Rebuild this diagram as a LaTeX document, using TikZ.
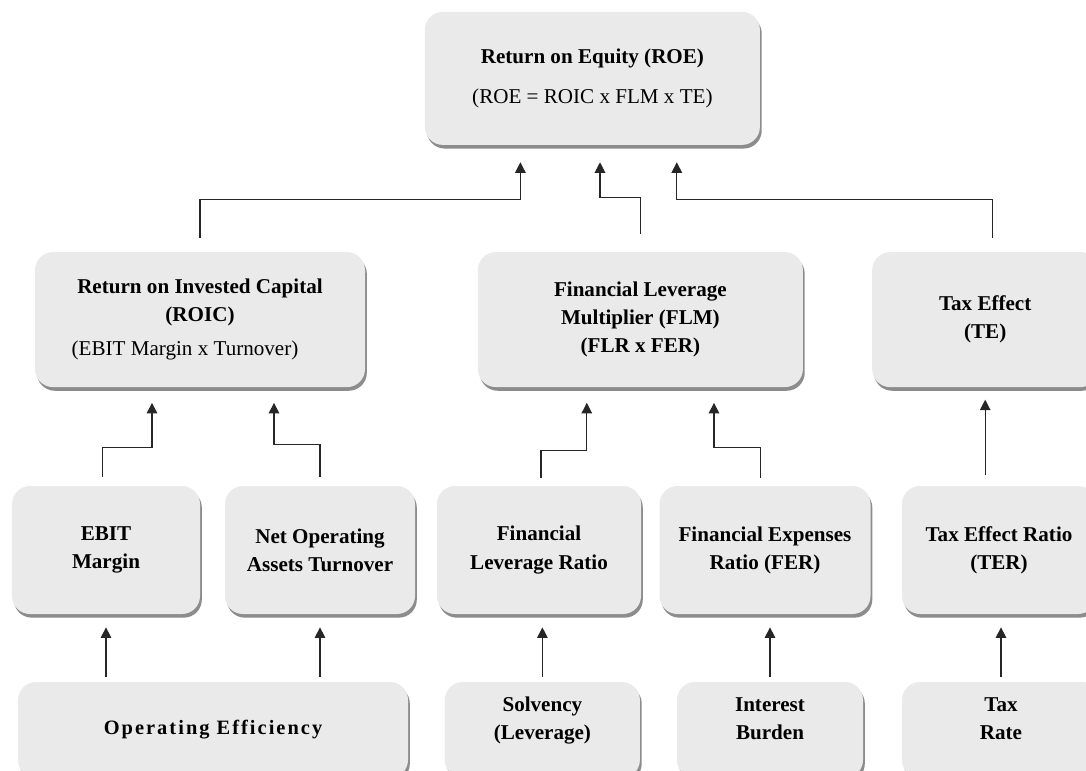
\documentclass[tikz,border=0pt]{standalone}
\usepackage{fontspec}
\setmainfont{Liberation Serif}
\usetikzlibrary{arrows.meta, shadows}
\definecolor{boxgray}{RGB}{234,234,234}
% two lines, set a little above the middle of the box
\newcommand{\liftup}[1]{\raisebox{0pt}[\height][\dimexpr\depth+14pt\relax]{\begin{tabular}{@{}c@{}}#1\end{tabular}}}

\begin{document}
\begin{tikzpicture}[>={Triangle[width=7.5pt,length=7.5pt]}, line width=0.8pt,
      box/.style={fill=boxgray, rounded corners=0.45cm, align=center, inner sep=2pt,
        font=\fontsize{15}{20}\selectfont\bfseries,
        drop shadow={shadow xshift=1.3pt, shadow yshift=-2.6pt, fill=black!45, opacity=1}},
      lnk/.style={->, draw=black!85}]

    \useasboundingbox (0, 0) rectangle (27.15, -19.275);
    \clip (0, 0) rectangle (27.15, -19.275);

    % top
    \node[box, minimum width=8.375cm, minimum height=3.325cm] (roe) at (14.81, -1.96)
        {Return on Equity (ROE)\\[8pt] {\mdseries (ROE = ROIC x FLM x TE)}};

    % second row
    \node[box, minimum width=8.25cm, minimum height=3.375cm] (roic) at (5.0, -7.99)
        {Return on Invested Capital\\(ROIC)\\[4pt] {\mdseries (EBIT Margin x Turnover)}\hspace*{0.75cm}};
    \node[box, minimum width=8.125cm, minimum height=3.375cm] (flm) at (16.01, -7.99)
        {Financial Leverage\\Multiplier (FLM)\\(FLR x FER)};
    \node[box, minimum width=5.65cm, minimum height=3.375cm] (te) at (24.63, -7.99)
        {Tax Effect\\(TE)};

    % ratios
    \node[box, minimum width=4.7cm, minimum height=3.2cm]   (ebit) at (2.65, -13.75)   {EBIT\\Margin};
    \node[box, minimum width=4.75cm, minimum height=3.2cm]  (noat) at (8.0, -13.75)    {Net Operating\\Assets Turnover};
    \node[box, minimum width=5.1cm, minimum height=3.2cm]   (flr)  at (13.475, -13.75) {Financial\\Leverage Ratio};
    \node[box, minimum width=5.275cm, minimum height=3.2cm] (fer)  at (19.125, -13.75) {Financial Expenses\\Ratio (FER)};
    \node[box, minimum width=4.85cm, minimum height=3.2cm]  (ter)  at (24.975, -13.75) {Tax Effect Ratio\\(TER)};

    % drivers
    \node[box, minimum width=9.75cm, minimum height=2.4cm] (opeff) at (5.325, -18.25)
        {\fontsize{14.5}{20}\selectfont\addfontfeature{LetterSpace=10}Operating Efficiency};
    \node[box, minimum width=4.875cm, minimum height=2.4cm] (solv) at (13.56, -18.25)  {\liftup{Solvency\\(Leverage)}};
    \node[box, minimum width=4.65cm, minimum height=2.4cm]  (intb) at (19.25, -18.25)  {\liftup{Interest\\Burden}};
    \node[box, minimum width=4.95cm, minimum height=2.4cm]  (taxr) at (25.025, -18.25) {\liftup{Tax\\Rate}};

    % into ROE
    \draw[lnk, shorten <=0.35cm, shorten >=0.42cm] (roic.north)
        |- ([xshift=-1.8cm, yshift=-1.35cm]roe.south) -- ([xshift=-1.8cm]roe.south);
    \draw[lnk, shorten <=0.45cm, shorten >=0.42cm] (flm.north)
        |- ([xshift=0.19cm, yshift=-1.3cm]roe.south) -- ([xshift=0.19cm]roe.south);
    \draw[lnk, shorten <=0.35cm, shorten >=0.42cm] ([xshift=0.18cm]te.north)
        |- ([xshift=2.11cm, yshift=-1.35cm]roe.south) -- ([xshift=2.11cm]roe.south);

    % into ROIC, FLM and TE
    \draw[lnk, shorten <=0.22cm, shorten >=0.38cm] ([xshift=-0.08cm]ebit.north)
        |- ([xshift=-1.2cm, yshift=-1.5cm]roic.south) -- ([xshift=-1.2cm]roic.south);
    \draw[lnk, shorten <=0.22cm, shorten >=0.38cm] (noat.north)
        |- ([xshift=1.85cm, yshift=-1.42cm]roic.south) -- ([xshift=1.85cm]roic.south);
    \draw[lnk, shorten <=0.18cm, shorten >=0.38cm] ([xshift=0.05cm]flr.north)
        |- ([xshift=-1.34cm, yshift=-1.57cm]flm.south) -- ([xshift=-1.34cm]flm.south);
    \draw[lnk, shorten <=0.18cm, shorten >=0.38cm] ([xshift=-0.12cm]fer.north)
        |- ([xshift=1.84cm, yshift=-1.5cm]flm.south) -- ([xshift=1.84cm]flm.south);
    \draw[lnk, shorten <=0.25cm, shorten >=0.3cm] (ter.north -| te.south) -- (te.south);

    % drivers into ratios
    \draw[lnk, shorten <=0.12cm, shorten >=0.32cm] (opeff.north -| ebit.south) -- (ebit.south);
    \draw[lnk, shorten <=0.12cm, shorten >=0.32cm] (opeff.north -| noat.south) -- (noat.south);
    \draw[lnk, shorten <=0.12cm, shorten >=0.32cm] (solv.north) -- (solv.north |- flr.south);
    \draw[lnk, shorten <=0.12cm, shorten >=0.32cm] (intb.north) -- (intb.north |- fer.south);
    \draw[lnk, shorten <=0.12cm, shorten >=0.32cm] (taxr.north) -- (taxr.north |- ter.south);

\end{tikzpicture}
\end{document}
